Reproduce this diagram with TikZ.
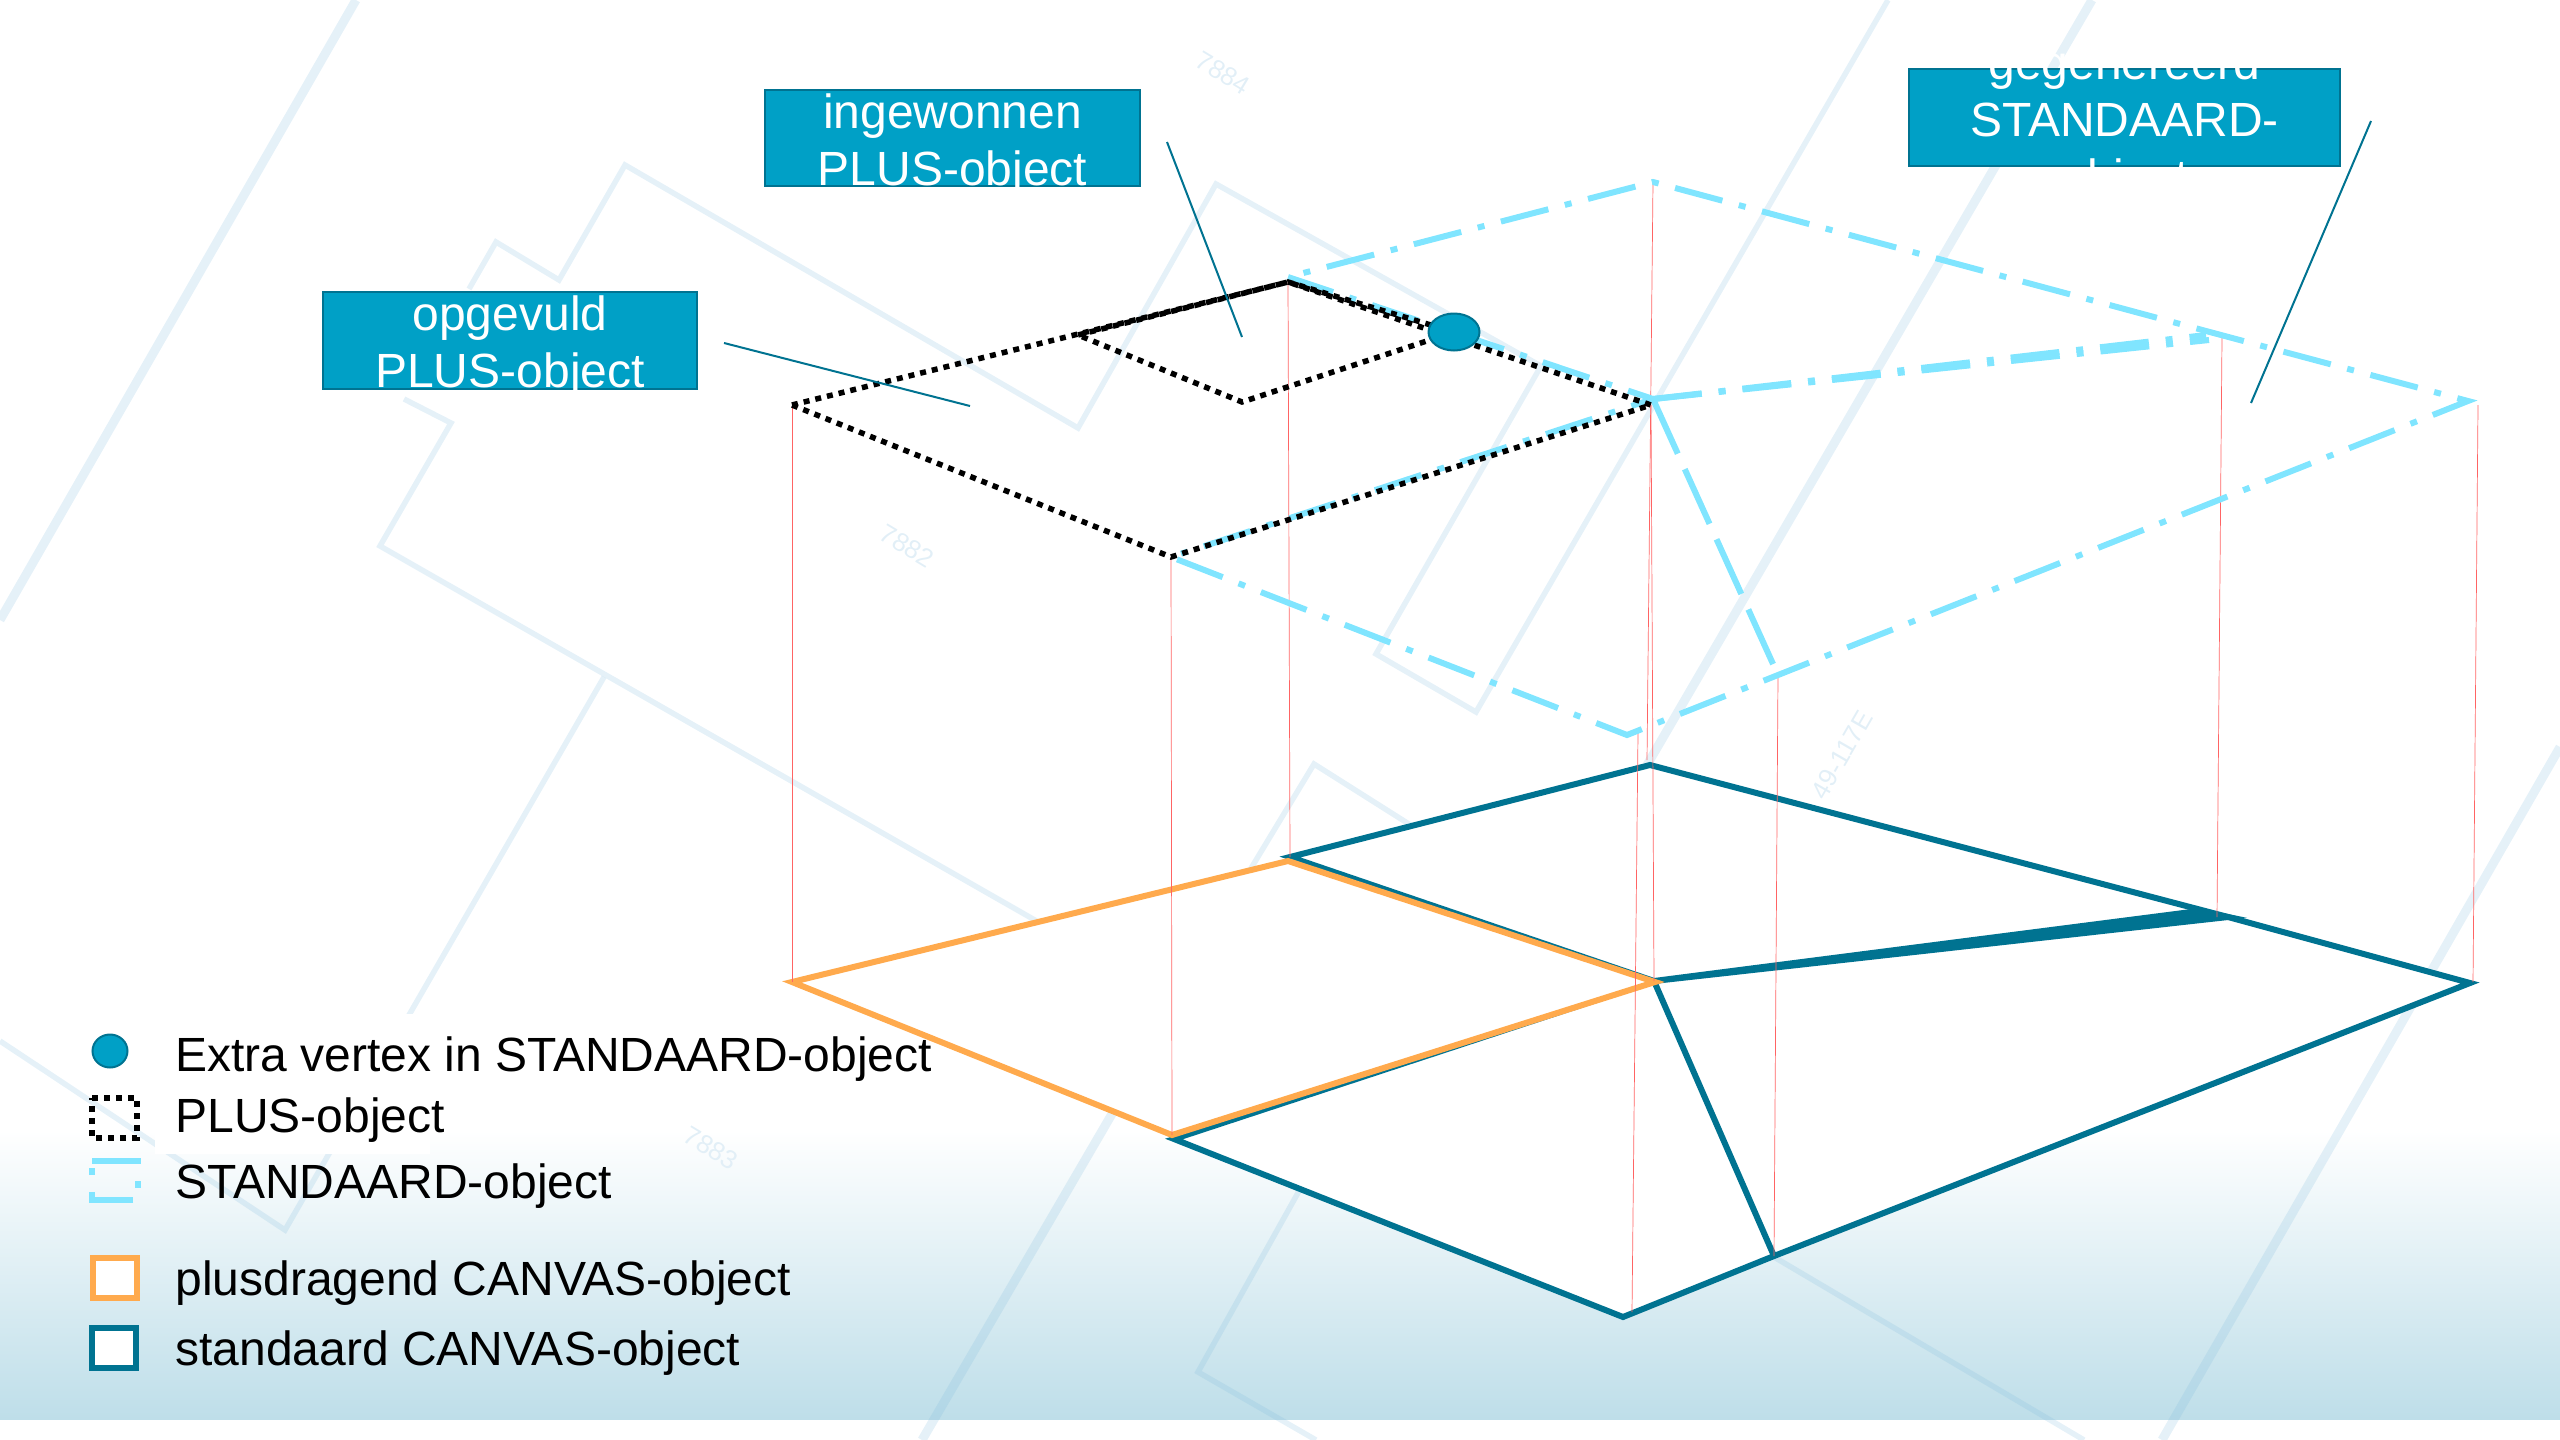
\documentclass[tikz,border=0pt]{standalone}
\usepackage{fontspec}
\usepackage{xcolor}
\setmainfont{Liberation Sans}
\usetikzlibrary{shapes.geometric}
\definecolor{boxblue}{RGB}{0,160,198}
\definecolor{darkteal}{RGB}{0,115,145}
\definecolor{lightcyan}{RGB}{128,229,255}
\definecolor{canvasorange}{RGB}{255,170,77}
\definecolor{mapblue}{RGB}{125,185,220}
\definecolor{maptext}{RGB}{226,239,247}
\definecolor{footblue}{RGB}{190,222,233}
\definecolor{dropred}{RGB}{255,100,100}
\tikzset{
    x=0.5pt, y=-0.5pt,
    mapline/.style={draw=mapblue, draw opacity=0.2, line width=2.75pt, line join=miter},
    mapthick/.style={mapline, line width=4.5pt},
    maplabel/.style={text=maptext, font=\fontsize{13pt}{15pt}\selectfont, inner sep=0pt},
    canvasteal/.style={draw=darkteal, line width=3pt, line join=miter},
    canvasplus/.style={draw=canvasorange, line width=3pt, line join=miter, miter limit=20},
    dropline/.style={draw=dropred, line width=0.35pt},
    plusline/.style={draw=black, line width=2.75pt, dash pattern=on 3pt off 3pt},
    standline/.style={draw=lightcyan, line width=3pt, dash pattern=on 24.5pt off 8.5pt on 3.5pt off 8.5pt},
    standlong/.style={draw=lightcyan, line width=3pt, dash pattern=on 30pt off 8.5pt},
    callout/.style={rectangle, fill=boxblue, draw=darkteal, line width=1.25pt, inner sep=0pt},
    callouttext/.style={text=white, align=center, inner sep=0pt, font=\fontsize{24pt}{28.5pt}\selectfont},
    leader/.style={draw=darkteal, line width=1pt},
    vertexdot/.style={ellipse, fill=boxblue, draw=darkteal, line width=1pt, inner sep=0pt},
    legendtext/.style={anchor=base west, inner sep=0pt, text=black, font=\fontsize{24pt}{28pt}\selectfont}
}
\begin{document}
\begin{tikzpicture}
    \useasboundingbox (0,0) rectangle (2560,1440);
    \shade[top color=white, bottom color=footblue] (0,1130) rectangle (2560,1419);

    \draw[mapthick] (356,0) -- (0,620);
    \draw[mapthick] (2092,0) -- (1647,765);
    \draw[mapthick] (1190,980) -- (922,1440);
    \draw[mapthick] (2560,747) -- (2162,1440);
    \draw[mapline] (469,289) -- (496,242) -- (559,280) -- (625,165) -- (1078,428) -- (1216,184) -- (1541,366) -- (1376,654) -- (1476,712) -- (1888,0);
    \draw[mapline] (404,399) -- (451,423) -- (380,546) -- (1040,923);
    \draw[mapline] (604,677) -- (285,1230) -- (0,1041);
    \draw[mapline] (1250,870) -- (1314,764) -- (1450,850);
    \draw[mapline] (1400,1010) -- (1198,1372) -- (1316,1440);
    \draw[mapline] (1774,1257) -- (2084,1440);
    \node[maplabel, rotate=-31] (label7884) at (1223,73) {7884};
    \node[maplabel, rotate=-31] (label7882) at (907,546) {7882};
    \node[maplabel, rotate=-31] (label7883) at (711,1148) {7883};
    \node[maplabel, rotate=60] (label49) at (1842,755) {49-117E};
    \fill[white] (155,1014) rectangle (430,1154);

    \coordinate (canvastop) at (1650,765);
    \coordinate (canvasleft) at (1290,857);
    \coordinate (canvasmid) at (1654,981);
    \coordinate (canvaskink) at (2228,917);
    \coordinate (canvaskinkb) at (2199,911);
    \coordinate (canvasright) at (2470,983);
    \coordinate (canvaslow) at (1774,1256);
    \coordinate (canvasbottom) at (1623,1317);
    \coordinate (canvasfront) at (1174,1139);

    \filldraw[canvasteal, fill=white] (canvasleft) -- (canvastop) -- (canvaskink) -- (canvasright) -- (canvaslow) -- (canvasbottom) -- (canvasfront) -- (canvasmid) -- cycle;
    \filldraw[canvasteal, fill=darkteal] (canvasmid) -- (canvaskinkb) -- (canvaskink) -- cycle;
    \draw[canvasteal] (canvasmid) -- (canvaslow);

    \coordinate (plusbaseleft) at (792,982);
    \coordinate (plusbasetop) at (1288,861);
    \coordinate (plusbaseright) at (1655,982);
    \coordinate (plusbasefront) at (1172,1135);
    \filldraw[canvasplus, fill=white] (plusbaseleft) -- (plusbasetop) -- (plusbaseright) -- (plusbasefront) -- cycle;

    \coordinate (plusleft) at (792,405);
    \coordinate (plustop) at (1288,282);
    \coordinate (plusright) at (1651,405);
    \coordinate (plusfront) at (1171,557);
    \coordinate (holeleft) at (1078,335);
    \coordinate (holefront) at (1242,402);
    \coordinate (holeright) at (1454,332);

    \coordinate (standtip) at (1288,277);
    \coordinate (standback) at (1653,182);
    \coordinate (standcross) at (1653,399);
    \coordinate (standkink) at (2206,331);
    \coordinate (standkinka) at (2206,335);
    \coordinate (standkinkb) at (2209,340);
    \coordinate (standright) at (2468,401);
    \coordinate (standlow) at (1778,675);
    \coordinate (standbottom) at (1627,735);

    \foreach \upper/\lower in {plusleft/plusbaseleft, plusfront/plusbasefront, plustop/canvasleft, plusright/canvasmid, standlow/canvaslow}
        \draw[dropline] (\upper) -- (\lower);
    \coordinate (dropa) at (1647,760);
    \coordinate (dropb) at (1638,733);
    \coordinate (dropc) at (1632,1312);
    \coordinate (dropd) at (2222,337);
    \coordinate (drope) at (2217,917);
    \coordinate (dropf) at (2478,405);
    \coordinate (dropg) at (2473,982);
    \draw[dropline] (standback) -- (dropa);
    \draw[dropline] (dropb) -- (dropc);
    \draw[dropline] (dropd) -- (drope);
    \draw[dropline] (dropf) -- (dropg);

    \draw[standline, dash phase=25pt] (standtip) -- (standback) -- (standkink) -- (standright) -- (standlow) -- (standbottom) -- (plusfront) -- (standcross) -- cycle;
    \draw[standline] (standcross) -- (standkinka);
    \draw[standline] (standcross) -- (standkinkb);
    \draw[standlong] (standcross) -- (standlow);

    \draw[plusline] (plusleft) -- (plustop) -- (plusright) -- (plusfront) -- cycle;
    \draw[plusline] (holeleft) -- (plustop) -- (holeright) -- (holefront) -- cycle;
    \node[vertexdot, minimum width=25.5pt, minimum height=18.5pt] (extravertex) at (holeright) {};

    \node[callout, minimum width=187pt, minimum height=48.5pt] (opgevuldbox) at (510,340.5) {};
    \node[callouttext, yshift=-3.25pt] (opgevuldtext) at (opgevuldbox.center) {opgevuld\\PLUS-object};
    \node[callout, minimum width=187.5pt, minimum height=48pt] (ingewonnenbox) at (952.5,138) {};
    \node[callouttext, yshift=-3.25pt] (ingewonnentext) at (ingewonnenbox.center) {ingewonnen\\PLUS-object};
    \node[callout, minimum width=215.5pt, minimum height=48.5pt] (gegenereerdbox) at (2124.5,117.5) {};
    \node[callouttext, yshift=-3.25pt] (gegenereerdtext) at (gegenereerdbox.center) {gegenereerd\\STANDAARD-\\object};

    \coordinate (opgevuldstart) at (724,343);
    \coordinate (opgevuldend) at (970,406);
    \coordinate (ingewonnenstart) at (1167,142);
    \coordinate (ingewonnenend) at (1242,337);
    \coordinate (gegenereerdstart) at (2371,121);
    \coordinate (gegenereerdend) at (2251,403);
    \draw[leader] (opgevuldstart) -- (opgevuldend);
    \draw[leader] (ingewonnenstart) -- (ingewonnenend);
    \draw[leader] (gegenereerdstart) -- (gegenereerdend);

    \node[vertexdot, minimum width=17.5pt, minimum height=16.5pt] (legendvertex) at (110,1051) {};
    \draw[plusline] (92,1098) -- (137,1098) -- (137,1138) -- (92,1138) -- cycle;
    \draw[standline] (92,1161) -- (138,1161) -- (138,1200) -- (92,1200) -- cycle;
    \filldraw[draw=canvasorange, line width=3pt, fill=white] (93,1258) rectangle (137,1298);
    \filldraw[draw=darkteal, line width=3pt, fill=white] (92,1328) rectangle (136,1368);
    \node[legendtext] (legendextra) at (175,1071) {Extra vertex in STANDAARD-object};
    \node[legendtext] (legendplus) at (175,1132) {PLUS-object};
    \node[legendtext] (legendstand) at (175,1198) {STANDAARD-object};
    \node[legendtext] (legendplusbase) at (175,1295) {plusdragend CANVAS-object};
    \node[legendtext] (legendcanvas) at (175,1365) {standaard CANVAS-object};
\end{tikzpicture}
\end{document}
